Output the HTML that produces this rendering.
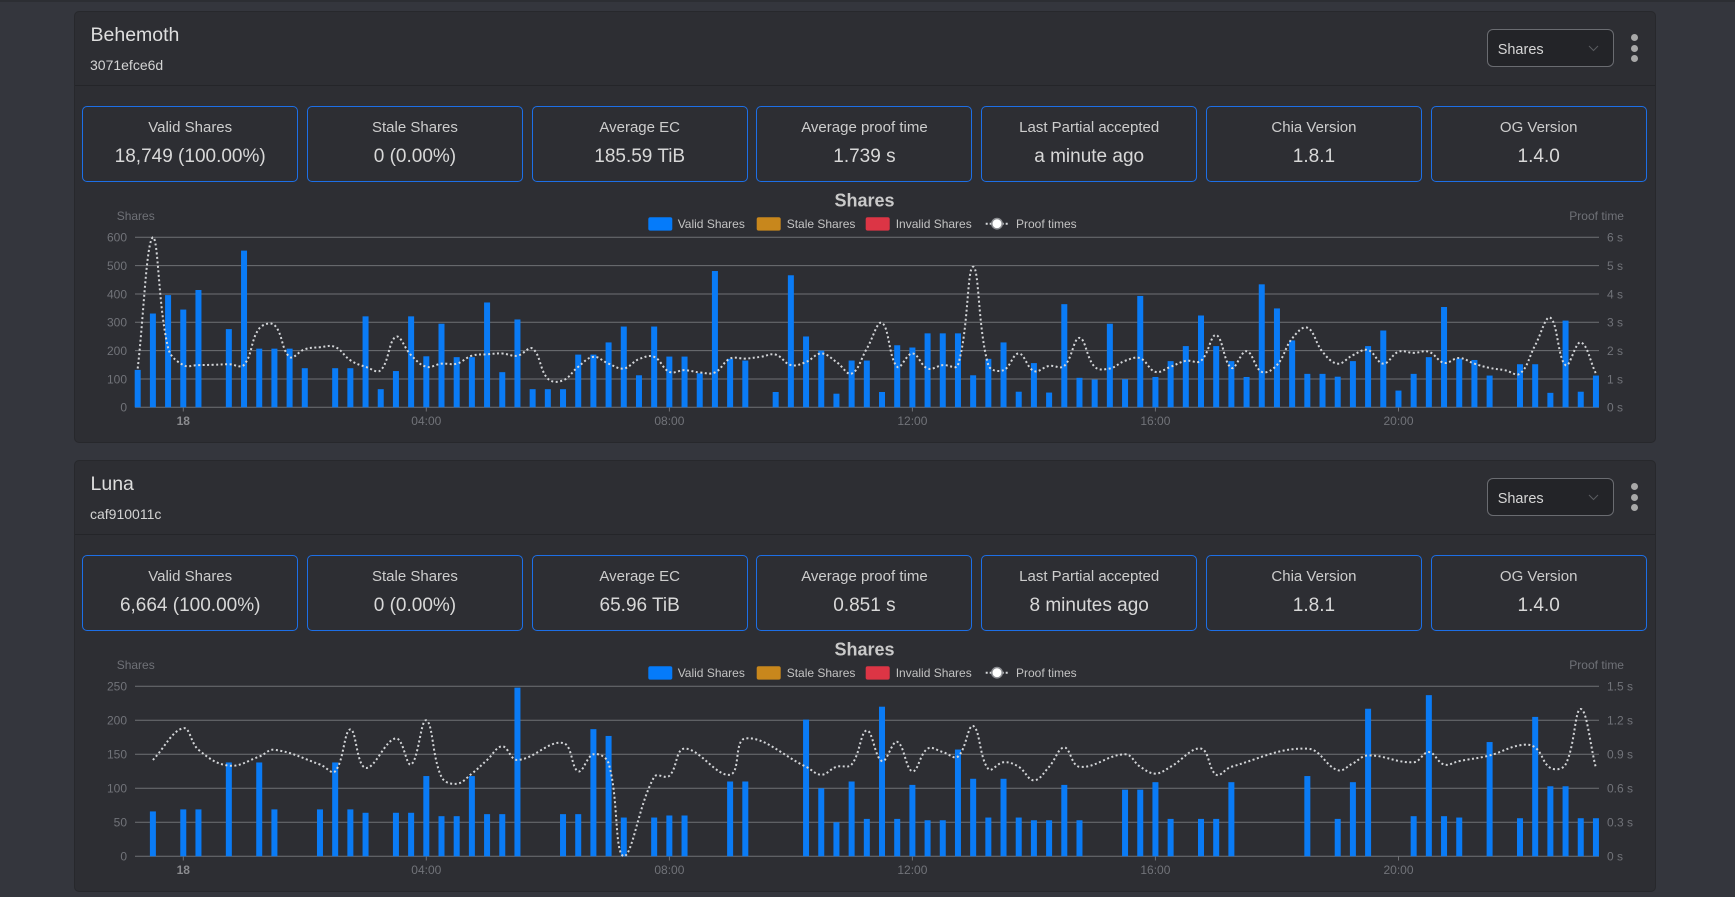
<!DOCTYPE html>
<html><head><meta charset="utf-8">
<style>
html,body{margin:0;padding:0;}
body{width:1735px;height:897px;overflow:hidden;position:relative;background:#34363d;font-family:"Liberation Sans",Arial,sans-serif;}
.topbar{position:absolute;left:0;top:0;width:1735px;height:2px;background:#2c2e33;}
.card{position:absolute;left:74px;width:1582px;height:432px;background:#2d2e33;border:1px solid #27282c;border-radius:5px;box-sizing:border-box;}
.hline{position:absolute;left:75px;width:1580px;height:1px;background:#242529;}
.t{position:absolute;white-space:nowrap;}
.title{font-size:19.5px;line-height:24px;color:#dedede;left:90.5px;}
.sub{font-size:14px;line-height:20px;color:#d4d4d4;left:90px;}
.box{position:absolute;width:216px;height:76.5px;border:1px solid #1d6fe6;border-radius:5px;box-sizing:border-box;text-align:center;}
.box .l{position:absolute;left:0;right:0;top:11.5px;font-size:15px;line-height:20px;color:#cdcdcd;white-space:nowrap;}
.box .v{position:absolute;left:0;right:0;top:38.2px;font-size:19px;line-height:24px;color:#d8d8d8;white-space:nowrap;}
.sel{position:absolute;left:1487px;width:127px;height:37.5px;border:1px solid #6a6c71;border-radius:6px;box-sizing:border-box;background:#232428;}
.selt{position:absolute;left:1497.7px;font-size:14.5px;line-height:20px;color:#d6d6d6;}
.dot{position:absolute;width:7px;height:7px;border-radius:50%;background:#a8a8a8;left:1631.2px;}
svg{position:absolute;left:0;top:0;}
</style></head>
<body>
<div class="topbar"></div>

<!-- Card 1 -->
<div class="card" style="top:11px;"></div>
<div class="hline" style="top:85px;"></div>
<div class="t title" style="top:22.7px;">Behemoth</div>
<div class="t sub" style="top:54.6px;">3071efce6d</div>
<div class="sel" style="top:29.3px;"></div>
<div class="t selt" style="top:40px;">Shares</div>
<div class="dot" style="top:34.3px;"></div>
<div class="dot" style="top:44.8px;"></div>
<div class="dot" style="top:54.8px;"></div>

<div class="box" style="left:82.2px;top:105.5px;"><div class="l">Valid Shares</div><div class="v">18,749 (100.00%)</div></div>
<div class="box" style="left:306.95px;top:105.5px;"><div class="l">Stale Shares</div><div class="v">0 (0.00%)</div></div>
<div class="box" style="left:531.7px;top:105.5px;"><div class="l">Average EC</div><div class="v">185.59 TiB</div></div>
<div class="box" style="left:756.45px;top:105.5px;"><div class="l">Average proof time</div><div class="v">1.739 s</div></div>
<div class="box" style="left:981.2px;top:105.5px;"><div class="l">Last Partial accepted</div><div class="v">a minute ago</div></div>
<div class="box" style="left:1205.95px;top:105.5px;"><div class="l">Chia Version</div><div class="v">1.8.1</div></div>
<div class="box" style="left:1430.7px;top:105.5px;"><div class="l">OG Version</div><div class="v">1.4.0</div></div>

<!-- Card 2 -->
<div class="card" style="top:460px;"></div>
<div class="hline" style="top:534px;"></div>
<div class="t title" style="top:471.7px;">Luna</div>
<div class="t sub" style="top:503.6px;">caf910011c</div>
<div class="sel" style="top:478.3px;"></div>
<div class="t selt" style="top:489px;">Shares</div>
<div class="dot" style="top:483.3px;"></div>
<div class="dot" style="top:493.8px;"></div>
<div class="dot" style="top:503.8px;"></div>

<div class="box" style="left:82.2px;top:554.5px;"><div class="l">Valid Shares</div><div class="v">6,664 (100.00%)</div></div>
<div class="box" style="left:306.95px;top:554.5px;"><div class="l">Stale Shares</div><div class="v">0 (0.00%)</div></div>
<div class="box" style="left:531.7px;top:554.5px;"><div class="l">Average EC</div><div class="v">65.96 TiB</div></div>
<div class="box" style="left:756.45px;top:554.5px;"><div class="l">Average proof time</div><div class="v">0.851 s</div></div>
<div class="box" style="left:981.2px;top:554.5px;"><div class="l">Last Partial accepted</div><div class="v">8 minutes ago</div></div>
<div class="box" style="left:1205.95px;top:554.5px;"><div class="l">Chia Version</div><div class="v">1.8.1</div></div>
<div class="box" style="left:1430.7px;top:554.5px;"><div class="l">OG Version</div><div class="v">1.4.0</div></div>

<svg width="1735" height="897" viewBox="0 0 1735 897">
  <!-- select chevrons -->
  <polyline points="1589,46 1593.5,50.5 1598,46" fill="none" stroke="#5a5c60" stroke-width="1"/>
  <polyline points="1589,495 1593.5,499.5 1598,495" fill="none" stroke="#5a5c60" stroke-width="1"/>

  <!-- ===== Chart 1 ===== -->
  <g id="chart1static" font-family="Liberation Sans, Arial, sans-serif">
    <g stroke="#6f7074" stroke-width="1">
      <line x1="135" y1="237.3" x2="1599" y2="237.3"/>
      <line x1="135" y1="265.6" x2="1599" y2="265.6"/>
      <line x1="135" y1="294" x2="1599" y2="294"/>
      <line x1="135" y1="322.3" x2="1599" y2="322.3"/>
      <line x1="135" y1="350.6" x2="1599" y2="350.6"/>
      <line x1="135" y1="379" x2="1599" y2="379"/>
      <line x1="135" y1="407.3" x2="1599" y2="407.3"/>
      <line x1="183.3" y1="407.3" x2="183.3" y2="411.5"/>
      <line x1="426.3" y1="407.3" x2="426.3" y2="411.5"/>
      <line x1="669.4" y1="407.3" x2="669.4" y2="411.5"/>
      <line x1="912.4" y1="407.3" x2="912.4" y2="411.5"/>
      <line x1="1155.4" y1="407.3" x2="1155.4" y2="411.5"/>
      <line x1="1398.5" y1="407.3" x2="1398.5" y2="411.5"/>
    </g>
    <text x="864.5" y="206.5" text-anchor="middle" font-size="18" font-weight="bold" fill="#c9c9c9">Shares</text>
    <g font-size="12" fill="#c3c3c3">
      <rect x="648.3" y="217.3" width="24" height="13.3" rx="2" fill="#057bfa"/>
      <text x="677.7" y="228">Valid Shares</text>
      <rect x="756.7" y="217.3" width="24" height="13.3" rx="2" fill="#c8871c"/>
      <text x="786.7" y="228">Stale Shares</text>
      <rect x="865.7" y="217.3" width="24" height="13.3" rx="2" fill="#dc3545"/>
      <text x="895.7" y="228">Invalid Shares</text>
      <line x1="985.7" y1="223.7" x2="1008.3" y2="223.7" stroke="#d5d7da" stroke-width="2" stroke-dasharray="2 2"/>
      <circle cx="997" cy="223.7" r="5.2" fill="#ffffff" stroke="#8a8c90" stroke-width="1.5"/>
      <text x="1016" y="228">Proof times</text>
    </g>
    <g font-size="12" fill="#6f7177">
      <text x="116.7" y="220">Shares</text>
      <text x="1569.3" y="220">Proof time</text>
    </g>
    <g font-size="12" fill="#717379" text-anchor="end">
      <text x="127" y="411.6">0</text>
      <text x="127" y="383.3">100</text>
      <text x="127" y="354.9">200</text>
      <text x="127" y="326.6">300</text>
      <text x="127" y="298.3">400</text>
      <text x="127" y="269.9">500</text>
      <text x="127" y="241.6">600</text>
    </g>
    <g font-size="12" fill="#717379">
      <text x="1607" y="411.6">0 s</text>
      <text x="1607" y="383.3">1 s</text>
      <text x="1607" y="354.9">2 s</text>
      <text x="1607" y="326.6">3 s</text>
      <text x="1607" y="298.3">4 s</text>
      <text x="1607" y="269.9">5 s</text>
      <text x="1607" y="241.6">6 s</text>
    </g>
    <g font-size="12" fill="#717379" text-anchor="middle">
      <text x="183.3" y="425" font-weight="bold" fill="#8a8b8f">18</text>
      <text x="426.3" y="425">04:00</text>
      <text x="669.4" y="425">08:00</text>
      <text x="912.4" y="425">12:00</text>
      <text x="1155.4" y="425">16:00</text>
      <text x="1398.5" y="425">20:00</text>
    </g>
  </g>
  <g id="c1"></g>

  <!-- ===== Chart 2 ===== -->
  <g transform="translate(0,449)" font-family="Liberation Sans, Arial, sans-serif">
    <g stroke="#6f7074" stroke-width="1">
      <line x1="135" y1="237.3" x2="1599" y2="237.3"/>
      <line x1="135" y1="271.3" x2="1599" y2="271.3"/>
      <line x1="135" y1="305.3" x2="1599" y2="305.3"/>
      <line x1="135" y1="339.3" x2="1599" y2="339.3"/>
      <line x1="135" y1="373.3" x2="1599" y2="373.3"/>
      <line x1="135" y1="407.3" x2="1599" y2="407.3"/>
      <line x1="183.3" y1="407.3" x2="183.3" y2="411.5"/>
      <line x1="426.3" y1="407.3" x2="426.3" y2="411.5"/>
      <line x1="669.4" y1="407.3" x2="669.4" y2="411.5"/>
      <line x1="912.4" y1="407.3" x2="912.4" y2="411.5"/>
      <line x1="1155.4" y1="407.3" x2="1155.4" y2="411.5"/>
      <line x1="1398.5" y1="407.3" x2="1398.5" y2="411.5"/>
    </g>
    <text x="864.5" y="206.5" text-anchor="middle" font-size="18" font-weight="bold" fill="#c9c9c9">Shares</text>
    <g font-size="12" fill="#c3c3c3">
      <rect x="648.3" y="217.3" width="24" height="13.3" rx="2" fill="#057bfa"/>
      <text x="677.7" y="228">Valid Shares</text>
      <rect x="756.7" y="217.3" width="24" height="13.3" rx="2" fill="#c8871c"/>
      <text x="786.7" y="228">Stale Shares</text>
      <rect x="865.7" y="217.3" width="24" height="13.3" rx="2" fill="#dc3545"/>
      <text x="895.7" y="228">Invalid Shares</text>
      <line x1="985.7" y1="223.7" x2="1008.3" y2="223.7" stroke="#d5d7da" stroke-width="2" stroke-dasharray="2 2"/>
      <circle cx="997" cy="223.7" r="5.2" fill="#ffffff" stroke="#8a8c90" stroke-width="1.5"/>
      <text x="1016" y="228">Proof times</text>
    </g>
    <g font-size="12" fill="#6f7177">
      <text x="116.7" y="220">Shares</text>
      <text x="1569.3" y="220">Proof time</text>
    </g>
    <g font-size="12" fill="#717379" text-anchor="end">
      <text x="127" y="411.6">0</text>
      <text x="127" y="377.6">50</text>
      <text x="127" y="343.6">100</text>
      <text x="127" y="309.6">150</text>
      <text x="127" y="275.6">200</text>
      <text x="127" y="241.6">250</text>
    </g>
    <g font-size="12" fill="#717379">
      <text x="1607" y="411.6">0 s</text>
      <text x="1607" y="377.6">0.3 s</text>
      <text x="1607" y="343.6">0.6 s</text>
      <text x="1607" y="309.6">0.9 s</text>
      <text x="1607" y="275.6">1.2 s</text>
      <text x="1607" y="241.6">1.5 s</text>
    </g>
    <g font-size="12" fill="#717379" text-anchor="middle">
      <text x="183.3" y="425" font-weight="bold" fill="#8a8b8f">18</text>
      <text x="426.3" y="425">04:00</text>
      <text x="669.4" y="425">08:00</text>
      <text x="912.4" y="425">12:00</text>
      <text x="1155.4" y="425">16:00</text>
      <text x="1398.5" y="425">20:00</text>
    </g>
  </g>
  <g id="c2"></g>
</svg>

<script>
(function(){
  function cx(i){return 137.7+15.19*i;}
  function build(gid, bars, line, y0, h, bmax, lmax){
    var s='';
    var keys=Object.keys(bars).map(Number).sort(function(a,b){return a-b;});
    keys.forEach(function(i){
      var v=bars[i]; if(!v) return;
      var bh=v/bmax*h;
      s+='<rect x="'+(cx(i)-3).toFixed(2)+'" y="'+(y0-bh).toFixed(2)+'" width="6" height="'+bh.toFixed(2)+'" fill="#0a7bf5"/>';
    });
    var lk=Object.keys(line).map(Number).sort(function(a,b){return a-b;});
    var pts=lk.map(function(i){return [cx(i), y0-line[i]/lmax*h];});
    var top=y0-h, t=0.4;
    function clamp(y){return Math.max(top,Math.min(y0,y));}
    var cps=pts.map(function(p,i){
      var prev=pts[i-1]||p, next=pts[i+1]||p;
      var d01=Math.hypot(p[0]-prev[0],p[1]-prev[1]);
      var d12=Math.hypot(next[0]-p[0],next[1]-p[1]);
      var s01=d01/(d01+d12), s12=d12/(d01+d12);
      if(!isFinite(s01)) s01=0; if(!isFinite(s12)) s12=0;
      var fa=t*s01, fb=t*s12;
      return {px:p[0]-fa*(next[0]-prev[0]), py:p[1]-fa*(next[1]-prev[1]),
              nx:p[0]+fb*(next[0]-prev[0]), ny:p[1]+fb*(next[1]-prev[1])};
    });
    var d='M'+pts[0][0].toFixed(2)+','+pts[0][1].toFixed(2);
    for(var i=1;i<pts.length;i++){
      var a=cps[i-1], b=cps[i];
      d+=' C'+a.nx.toFixed(2)+','+clamp(a.ny).toFixed(2)+' '+b.px.toFixed(2)+','+clamp(b.py).toFixed(2)+' '+pts[i][0].toFixed(2)+','+pts[i][1].toFixed(2);
    }
    s+='<path d="'+d+'" fill="none" stroke="#d3d5d8" stroke-width="2" stroke-dasharray="2 2.5"/>';
    document.getElementById(gid).innerHTML=s;
  }

  var b1=[132,331,396,345,414,0,276,553,207,207,207,138,0,138,138,321,64,128,321,180,295,177,177,370,124,310,64,64,64,186,186,229,285,113,285,179,179,120,481,171,165,0,54,466,250,200,48,165,165,54,219,211,261,261,261,113,171,229,55,156,52,364,104,98,295,99,393,107,163,216,324,216,163,107,434,349,236,118,118,108,163,216,271,59,118,177,354,172,167,112,0,152,152,51,306,55,112];
  var l1=[1.37,6.0,2.1,1.49,1.49,1.5,1.52,1.5,2.78,2.9,1.78,2.05,2.12,2.13,1.66,1.43,1.31,2.49,1.84,1.43,1.54,1.54,1.82,1.87,1.9,1.82,2.07,1.01,0.95,1.43,1.78,1.54,1.37,1.7,1.78,1.25,1.31,1.23,1.23,1.72,1.72,1.78,1.86,1.49,1.6,1.9,1.6,1.19,2.07,2.98,1.43,1.9,1.37,1.49,1.49,4.96,1.49,1.31,1.9,1.28,1.46,1.46,2.45,1.43,1.37,1.64,1.73,1.25,1.43,1.64,1.64,2.55,1.39,1.98,1.25,1.49,2.43,2.81,1.96,1.54,1.84,2.02,1.54,1.96,1.92,1.96,1.57,1.74,1.54,1.39,1.31,1.19,2.19,3.16,1.49,2.29,1.19];
  var bo1={}, lo1={};
  b1.forEach(function(v,i){bo1[i]=v;});
  l1.forEach(function(v,i){lo1[i]=v;});
  build('c1', bo1, lo1, 407.3, 170, 600, 6);

  var b2={1:66,3:69,4:69,6:138,8:138,9:69,12:69,13:138,14:69,15:64,17:64,18:64,19:118,20:59,21:59,22:118,23:62,24:62,25:248,28:62,29:62,30:187,31:177,32:57,34:57,35:60,36:60,39:110,40:110,44:201,45:100,46:50,47:110,48:55,49:220,50:55,51:105,52:53,53:53,54:157,55:114,56:57,57:114,58:57,59:53,60:53,61:105,62:53,65:98,66:98,67:109,68:55,70:55,71:55,72:109,77:118,79:55,80:109,81:217,84:59,85:237,86:59,87:57,89:168,91:56,92:205,93:103,94:103,95:56,96:56};
  var l2={1:0.85,3:1.13,4:0.94,6:0.80,8:0.88,9:0.94,12:0.81,13:0.75,14:1.12,15:0.78,17:1.04,18:0.81,19:1.2,20:0.70,21:0.64,22:0.73,23:0.85,24:0.97,25:0.85,28:1.0,29:0.75,30:0.90,31:0.82,32:0.0,34:0.70,35:0.71,36:0.95,39:0.72,40:1.04,44:0.79,45:0.72,46:0.79,47:0.81,48:1.11,49:0.84,50:1.01,51:0.75,52:0.95,53:0.92,54:0.88,55:1.15,56:0.77,57:0.83,58:0.79,59:0.67,60:0.79,61:0.96,62:0.79,65:0.90,66:0.79,67:0.73,68:0.79,70:0.95,71:0.72,72:0.79,77:0.95,79:0.76,80:0.82,81:0.89,84:0.83,85:0.92,86:0.81,87:0.84,89:0.89,91:0.98,92:0.96,93:0.78,94:0.81,95:1.30,96:0.78};
  build('c2', b2, l2, 856.3, 170, 250, 1.5);
})();
</script>
</body></html>
